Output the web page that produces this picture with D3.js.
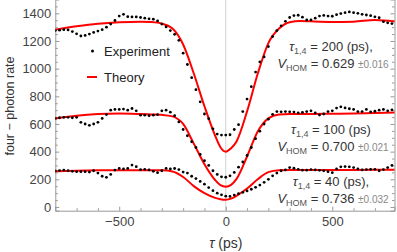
<!DOCTYPE html>
<html>
<head>
<meta charset="utf-8">
<script src="https://cdn.jsdelivr.net/npm/d3@7"></script>
<style>
  body { margin: 0; background: #fff; }
  svg { display: block; font-family: "Liberation Sans", Arial, sans-serif; }
  .axis path, .axis line { stroke: #999; }
  .axis text { fill: #444; font-size: 13px; }
</style>
</head>
<body>
<div id="chart"></div>
<script>
// delay axis, ps
var tau = d3.range(-800, 801, 20)

// measured four-photon rates (dots)
var exp200 = [1275, 1278, 1282, 1280, 1268, 1252, 1236, 1240, 1250, 1262, 1272, 1282, 1300, 1322, 1348, 1380,
  1393, 1376, 1374, 1374, 1370, 1365, 1360, 1358, 1345, 1322, 1302, 1275, 1248, 1205, 1112, 1030, 935, 848,
  760, 672, 638, 565, 527, 520, 520, 522, 560, 595, 690, 780, 870, 975, 1049, 1085, 1160, 1232, 1275, 1310,
  1342, 1370, 1384, 1386, 1372, 1352, 1352, 1365, 1380, 1385, 1380, 1379, 1390, 1398, 1405, 1410, 1405, 1400,
  1393, 1388, 1383, 1375, 1368, 1340, 1331, 1326, 1315]
var exp100 = [640, 645, 648, 648, 645, 648, 612, 600, 590, 600, 612, 640, 668, 700, 705, 705, 708, 700, 712,
  695, 664, 664, 660, 664, 668, 695, 700, 685, 660, 615, 560, 515, 472, 430, 380, 335, 300, 262, 235, 218, 215,
  225, 250, 288, 325, 372, 430, 494, 548, 600, 635, 670, 690, 688, 690, 688, 686, 680, 684, 690, 695, 680, 665,
  672, 690, 695, 715, 724, 716, 710, 705, 690, 690, 705, 688, 692, 700, 705, 695, 702, 700]
var exp40 = [260, 263, 267, 262, 258, 255, 255, 255, 252, 262, 245, 222, 214, 235, 267, 279, 275, 279, 303,
  291, 270, 272, 268, 258, 248, 262, 279, 275, 278, 270, 252, 245, 222, 205, 185, 165, 140, 118, 100, 88, 78,
  76, 86, 96, 106, 116, 128, 142, 158, 178, 200, 225, 245, 262, 268, 285, 280, 272, 266, 266, 270, 268, 265,
  262, 255, 248, 275, 290, 292, 290, 285, 275, 268, 270, 272, 272, 262, 270, 285, 300, 280]

// theory curves (red), read at uneven delays
var tauTh = [-800, -700, -600, -500, -400, -350, -300, -250, -200, -150, -100, -50, -25, 0, 25, 50, 100, 150,
  200, 250, 300, 350, 400, 500, 600, 700, 800]
var th200 = [1282, 1306, 1325, 1336, 1340, 1337, 1326, 1290, 1175, 965, 728, 516, 432, 400, 425, 472, 691,
  963, 1185, 1290, 1336, 1345, 1342, 1338, 1340, 1352, 1340]
var th100 = [640, 660, 672, 676, 672, 669, 666, 655, 600, 458, 309, 195, 158, 147, 160, 201, 365, 545, 641,
  668, 672, 672, 672, 674, 676, 680, 684]
var th40 = [258, 262, 265, 266, 266, 266, 265, 257, 217, 151, 100, 66, 56, 52, 60, 80, 133, 200, 252, 265,
  267, 267, 267, 268, 268, 269, 270]

var xTicks = [-500, 0, 500]
var yTicks = [0, 200, 400, 600, 800, 1000, 1200, 1400]

var labels = [
  {tau: '200', v: '0.629', err: '0.016', comma: ',', y: 51},
  {tau: '100', v: '0.700', err: '0.021', comma: '', y: 134},
  {tau: '40', v: '0.736', err: '0.032', comma: ',', y: 186}
]

var W = 397, H = 252
var svg = d3.select('#chart').append('svg').attr('width', W).attr('height', H)

var x = d3.scaleLinear().domain([-800, 792]).range([55.3, 394.5])
var y = d3.scaleLinear().domain([-27, 1500]).range([210.7, -0.5])

svg.append('clipPath').attr('id', 'plot')
  .append('rect').attr('x', x.range()[0]).attr('y', 0)
  .attr('width', x.range()[1] - x.range()[0]).attr('height', y(-27))

// zero line
svg.append('line')
  .attr('x1', x(0)).attr('x2', x(0)).attr('y1', 0).attr('y2', y(-27))
  .attr('stroke', '#d0d0d0').attr('stroke-width', 1)

// axes: major and minor ticks, pointing inward
function fmt(d){ return d < 0 ? '\u2212' + Math.abs(d) : d }
var minorY = d3.range(50, 1500, 50).filter(d => d % 200)

svg.append('g').attr('class', 'axis').attr('transform', `translate(0,${y(-27)})`)
  .call(d3.axisBottom(x).tickValues(xTicks).tickSize(-4).tickPadding(6).tickFormat(fmt))
svg.append('g').attr('class', 'axis').attr('transform', `translate(0,${y(-27)})`)
  .call(d3.axisBottom(x).tickValues(d3.range(-700, 800, 100).filter(d => d % 500)).tickSize(-2.5).tickFormat(''))
  .select('.domain').remove()

svg.append('g').attr('class', 'axis').attr('transform', `translate(${x.range()[0]},0)`)
  .call(d3.axisLeft(y).tickValues(yTicks).tickSize(-4).tickPadding(4).tickFormat(d3.format('d')))
svg.append('g').attr('class', 'axis').attr('transform', `translate(${x.range()[0]},0)`)
  .call(d3.axisLeft(y).tickValues(minorY).tickSize(-2.5).tickFormat(''))
  .select('.domain').remove()

svg.append('g').attr('class', 'axis').attr('transform', `translate(${x.range()[1]},0)`)
  .call(d3.axisRight(y).tickValues(yTicks).tickSize(-4).tickFormat(''))
svg.append('g').attr('class', 'axis').attr('transform', `translate(${x.range()[1]},0)`)
  .call(d3.axisRight(y).tickValues(minorY).tickSize(-2.5).tickFormat(''))
  .select('.domain').remove()

// theory lines
var line = d3.line().x(d => x(d[0])).y(d => y(d[1])).curve(d3.curveMonotoneX)
var plot = svg.append('g').attr('clip-path', 'url(#plot)')
;[th200, th100, th40].forEach(function(s){
  plot.append('path')
    .datum(tauTh.map((t, i) => [t, s[i]]))
    .attr('d', line)
    .attr('fill', 'none').attr('stroke', '#f00').attr('stroke-width', 2)
})

// experiment dots
;[exp200, exp100, exp40].forEach(function(s){
  plot.append('g').selectAll('circle')
    .data(tau.map((t, i) => [t, s[i]]))
    .join('circle')
    .attr('cx', d => x(d[0])).attr('cy', d => y(d[1])).attr('r', 1.4)
    .attr('fill', '#000')
})

// legend
var leg = svg.append('g').attr('font-size', 13).attr('fill', '#222')
leg.append('circle').attr('cx', 92.5).attr('cy', 51).attr('r', 1.5).attr('fill', '#000')
leg.append('text').attr('x', 104).attr('y', 55.5).text('Experiment')
leg.append('line').attr('x1', 87).attr('x2', 97).attr('y1', 77).attr('y2', 77)
  .attr('stroke', '#f00').attr('stroke-width', 2)
leg.append('text').attr('x', 104).attr('y', 81.5).text('Theory')

// annotations
var ann = svg.append('g').attr('font-size', 13).attr('fill', '#333').attr('text-anchor', 'middle')
labels.forEach(function(d){
  var t1 = ann.append('text').attr('x', 331).attr('y', d.y)
  t1.append('tspan').attr('font-style', 'italic').text('\u03c4')
  t1.append('tspan').attr('font-size', 9).attr('dy', 3).attr('fill', '#555').text('1,4')
  t1.append('tspan').attr('dy', -3).text(' = ' + d.tau + ' (ps)' + d.comma)

  var t2 = ann.append('text').attr('x', 333).attr('y', d.y + 16.5)
  t2.append('tspan').attr('font-style', 'italic').text('V')
  t2.append('tspan').attr('font-size', 9).attr('dy', 3).attr('fill', '#555').text('HOM')
  t2.append('tspan').attr('dy', -3).text(' = ' + d.v + ' ')
  t2.append('tspan').attr('font-size', 10).attr('fill', '#888').text('\u00b1' + d.err)
})

// axis titles
svg.append('text')
  .attr('transform', 'translate(14,106) rotate(-90)')
  .attr('text-anchor', 'middle').attr('font-size', 12.5).attr('fill', '#333')
  .text('four \u2212 photon rate')

var xl = svg.append('text').attr('x', x(0)).attr('y', 248)
  .attr('text-anchor', 'middle').attr('font-size', 14).attr('fill', '#333')
xl.append('tspan').attr('font-style', 'italic').text('\u03c4')
xl.append('tspan').text(' (ps)')
</script>
</body>
</html>
